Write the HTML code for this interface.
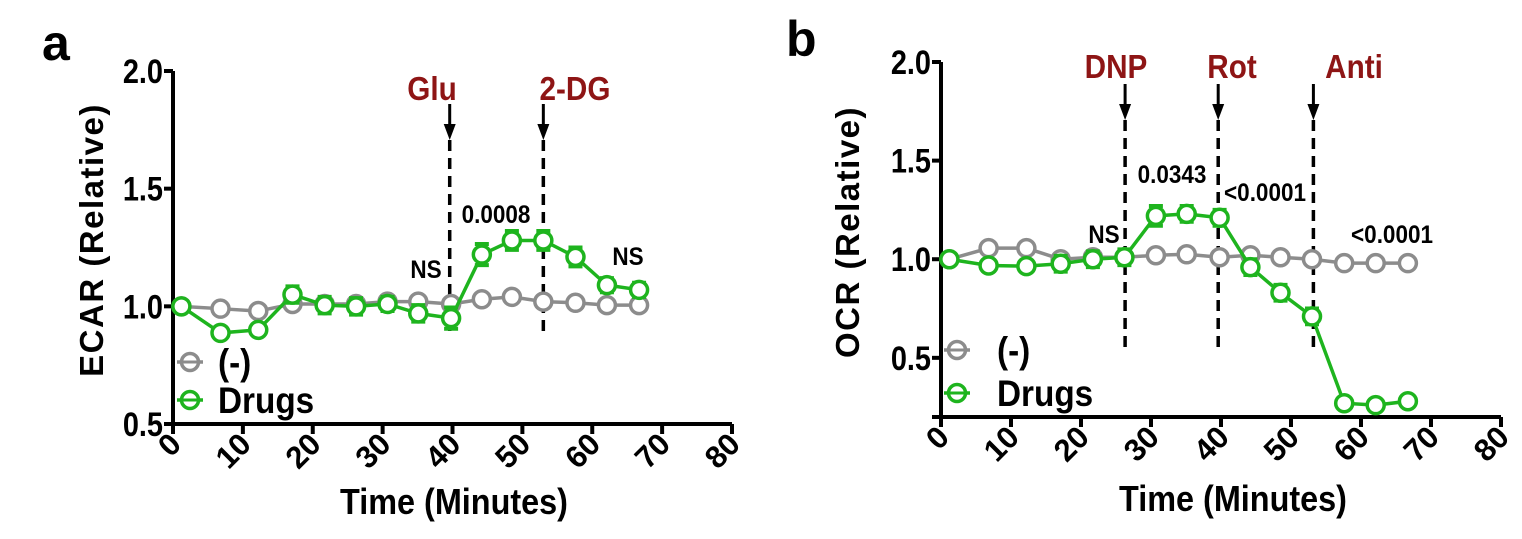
<!DOCTYPE html>
<html><head><meta charset="utf-8"><style>
html,body{margin:0;padding:0;background:#fff;}
svg{display:block;font-family:"Liberation Sans",Arial,sans-serif;font-weight:bold;}
</style></head><body>
<svg id="fig" width="1522" height="539" viewBox="0 0 1522 539" xmlns="http://www.w3.org/2000/svg">
<text x="42" y="60" font-size="50">a</text>
<text x="786" y="56" font-size="50">b</text>
</svg>
<script>
const times = [1.2, 6.8, 12.2, 17.1, 21.7, 26.2, 30.7, 35.1, 39.8, 44.2, 48.5, 53, 57.6, 62.1, 66.7];
const ecarCtrl = [1.0, 0.99, 0.98, 1.01, 1.01, 1.01, 1.02, 1.02, 1.01, 1.03, 1.04, 1.02, 1.015, 1.005, 1.005];
const ecarDrug = [1.0, 0.887, 0.90, 1.05, 1.005, 1.0, 1.01, 0.97, 0.95, 1.22, 1.28, 1.28, 1.21, 1.09, 1.07];
const ecarDrugErr = [0, 0.015, 0.02, 0.035, 0.035, 0.035, 0.03, 0.035, 0.045, 0.045, 0.04, 0.04, 0.04, 0.03, 0.03];
const ocrCtrl = [1.0, 1.056, 1.056, 1.0, 1.01, 1.01, 1.02, 1.025, 1.01, 1.02, 1.01, 1.0, 0.98, 0.98, 0.98];
const ocrDrug = [1.0, 0.968, 0.965, 0.977, 1.0, 1.01, 1.22, 1.23, 1.21, 0.96, 0.83, 0.71, 0.27, 0.26, 0.28];
const ocrDrugErr = [0, 0.015, 0.015, 0.04, 0.04, 0.04, 0.05, 0.04, 0.04, 0.04, 0.04, 0.04, 0.015, 0.015, 0.015];
const xTicks = [0, 10, 20, 30, 40, 50, 60, 70, 80];
const ecarYTicks = [0.5, 1.0, 1.5, 2.0];
const ocrYTicks = [0.5, 1.0, 1.5, 2.0];
const ecarEvents = [39.6, 53];
const ecarEventLabels = ["Glu", "2-DG"];
const ocrEvents = [26.3, 39.6, 53.2];
const ocrEventLabels = ["DNP", "Rot", "Anti"];

const NS = "http://www.w3.org/2000/svg";
const svg = document.getElementById('fig');
const GRAY = "#8c8c8c", GREEN = "#1eb41e", RED = "#8e1515";
function mk(tag, attrs, parent) {
  const e = document.createElementNS(NS, tag);
  for (const k in attrs) e.setAttribute(k, attrs[k]);
  (parent || svg).appendChild(e);
  return e;
}
// condensed text: scale horizontally around anchor point
function ctxt(x, y, s, size, sx, anchor, parent, extra) {
  const t = mk('text', Object.assign({x: 0, y: 0, 'font-size': size, 'text-anchor': anchor,
    transform: `translate(${x},${y}) scale(${sx},1)`}, extra || {}), parent);
  t.textContent = s;
  return t;
}

function panel(cfg) {
  const g = mk('g', {});
  
  
  const X = v => cfg.x0 + (v - 0) * (cfg.x1 - cfg.x0) / 80;
  const Y = v => cfg.yBot + (v - cfg.yMin) * (cfg.yTop - cfg.yBot) / (2.0 - cfg.yMin);
  const ax = mk('path', {d: `M${cfg.x0} ${Y(2.0)} V${cfg.yBot} H${X(80)}`, stroke: '#000', 'stroke-width': 4, fill: 'none'}, g);
  
  
  cfg.yTicks.forEach(v => {
    const tk = mk('line', {x1: cfg.x0 - 9, x2: cfg.x0, y1: Y(v), y2: Y(v), stroke: '#000', 'stroke-width': 4}, g);
    
    
    const l = ctxt(cfg.x0 - 10, Y(v) + 12, v.toFixed(1), 34, 0.85, 'end', g);
    
    
  });
  if (cfg.yMin < 0.5) {
    mk('line', {x1: cfg.x0 - 9, x2: cfg.x0, y1: cfg.yBot, y2: cfg.yBot, stroke: '#000', 'stroke-width': 4}, g);
  }
  xTicks.forEach(v => {
    const tk = mk('line', {x1: X(v), x2: X(v), y1: cfg.yBot, y2: cfg.yBot + 10, stroke: '#000', 'stroke-width': 4}, g);
    
    
    const l = mk('text', {x: 0, y: 0, 'font-size': 31, 'text-anchor': 'end', transform: `translate(${X(v) + 10},${cfg.yBot + 22}) rotate(-45)`}, g);
    l.textContent = String(v);
    
    
  });
  const xt = ctxt(cfg.xTitleX, cfg.xTitleY, 'Time (Minutes)', 36, 0.9, 'middle', g);
  
  
  const yt = mk('text', {x: 0, y: 0, 'font-size': 33, 'text-anchor': 'middle', 'letter-spacing': '1.5', transform: `translate(${cfg.yTitleX},${cfg.yTitleY}) rotate(-90)`}, g);
  yt.textContent = cfg.yTitle;
  
  
  cfg.events.forEach((t, i) => {
    const dl = mk('line', {x1: X(t), x2: X(t), y1: cfg.dashTop, y2: cfg.dashBot, stroke: '#000', 'stroke-width': 3.5, 'stroke-dasharray': '11 7'}, g);
    
    
    mk('line', {x1: X(t), x2: X(t), y1: cfg.arrowTop, y2: cfg.arrowTop + 24, stroke: '#000', 'stroke-width': 3}, g);
    const ah = mk('path', {d: `M${X(t) - 6} ${cfg.arrowTop + 20} L${X(t) + 6} ${cfg.arrowTop + 20} L${X(t)} ${cfg.arrowTop + 36} Z`, fill: '#000'}, g);
    
    
    const el = ctxt(cfg.labelX[i], cfg.labelY, cfg.eventLabels[i], 33, 0.9, 'middle', g, {fill: RED});
    
    
  });
  function series(vals, color, errs, name) {
    const sg = mk('g', {}, g);
    
    
    const d = vals.map((v, i) => (i ? 'L' : 'M') + X(times[i]) + ' ' + Y(v)).join(' ');
    mk('path', {d: d, stroke: color, 'stroke-width': 3.5, fill: 'none'}, sg);
    vals.forEach((v, i) => {
      if (errs && errs[i] > 0) {
        const e = errs[i], cx = X(times[i]);
        const eb = mk('path', {d: `M${cx} ${Y(v + e)} V${Y(v - e)} M${cx - 7} ${Y(v + e)} H${cx + 7} M${cx - 7} ${Y(v - e)} H${cx + 7}`, stroke: color, 'stroke-width': 4, fill: 'none'}, sg);
        
        
      }
      const c = mk('circle', {cx: X(times[i]), cy: Y(v), r: 8.5, fill: '#fff', stroke: color, 'stroke-width': 3.5}, sg);
      
      
    });
  }
  series(cfg.ctrl, GRAY, null, 'series-control');
  series(cfg.drug, GREEN, cfg.drugErr, 'series-drugs');
  cfg.annots.forEach(a => {
    const at = ctxt(a[0], a[1], a[2], 25, 0.9, 'middle', g);
    
    
  });
  [[GRAY, '(-)', cfg.legY1], [GREEN, 'Drugs', cfg.legY2]].forEach(L => {
    const lg = mk('g', {}, g);
    
    
    mk('line', {x1: cfg.legX - 13, x2: cfg.legX + 13, y1: L[2], y2: L[2], stroke: L[0], 'stroke-width': 3.5}, lg);
    mk('circle', {cx: cfg.legX, cy: L[2], r: 8.5, fill: '#fff', stroke: L[0], 'stroke-width': 3.5}, lg);
    mk('line', {x1: cfg.legX - 8, x2: cfg.legX + 8, y1: L[2], y2: L[2], stroke: L[0], 'stroke-width': 3}, lg);
    ctxt(cfg.legTX, L[2] + 13, L[1], 37, 0.9, 'start', lg);
  });
}

panel({name: 'panel-a-ecar', x0: 173, x1: 732, yMin: 0.5, yBot: 424, yTop: 71, yTicks: ecarYTicks,
  yTitle: 'ECAR (Relative)', yTitleX: 103, yTitleY: 240, xTitleX: 454, xTitleY: 514,
  ctrl: ecarCtrl, drug: ecarDrug, drugErr: ecarDrugErr,
  events: ecarEvents, eventLabels: ecarEventLabels, labelX: [432, 575], labelY: 100,
  dashTop: 140, dashBot: 338, arrowTop: 104,
  annots: [[496, 223, '0.0008'], [426, 278, 'NS'], [628, 265, 'NS']],
  legX: 190, legTX: 218, legY1: 362, legY2: 400});
panel({name: 'panel-b-ocr', x0: 941, x1: 1501, yMin: 0.2, yBot: 417, yTop: 62, yTicks: ocrYTicks,
  yTitle: 'OCR (Relative)', yTitleX: 859, yTitleY: 232, xTitleX: 1233, xTitleY: 511,
  ctrl: ocrCtrl, drug: ocrDrug, drugErr: ocrDrugErr,
  events: ocrEvents, eventLabels: ocrEventLabels, labelX: [1116, 1232, 1354], labelY: 78,
  dashTop: 120, dashBot: 348, arrowTop: 84,
  annots: [[1172, 183, '0.0343'], [1265, 201, '<0.0001'], [1104, 243, 'NS'], [1392, 243, '<0.0001']],
  legX: 957, legTX: 997, legY1: 350, legY2: 393});
</script>
</body></html>
